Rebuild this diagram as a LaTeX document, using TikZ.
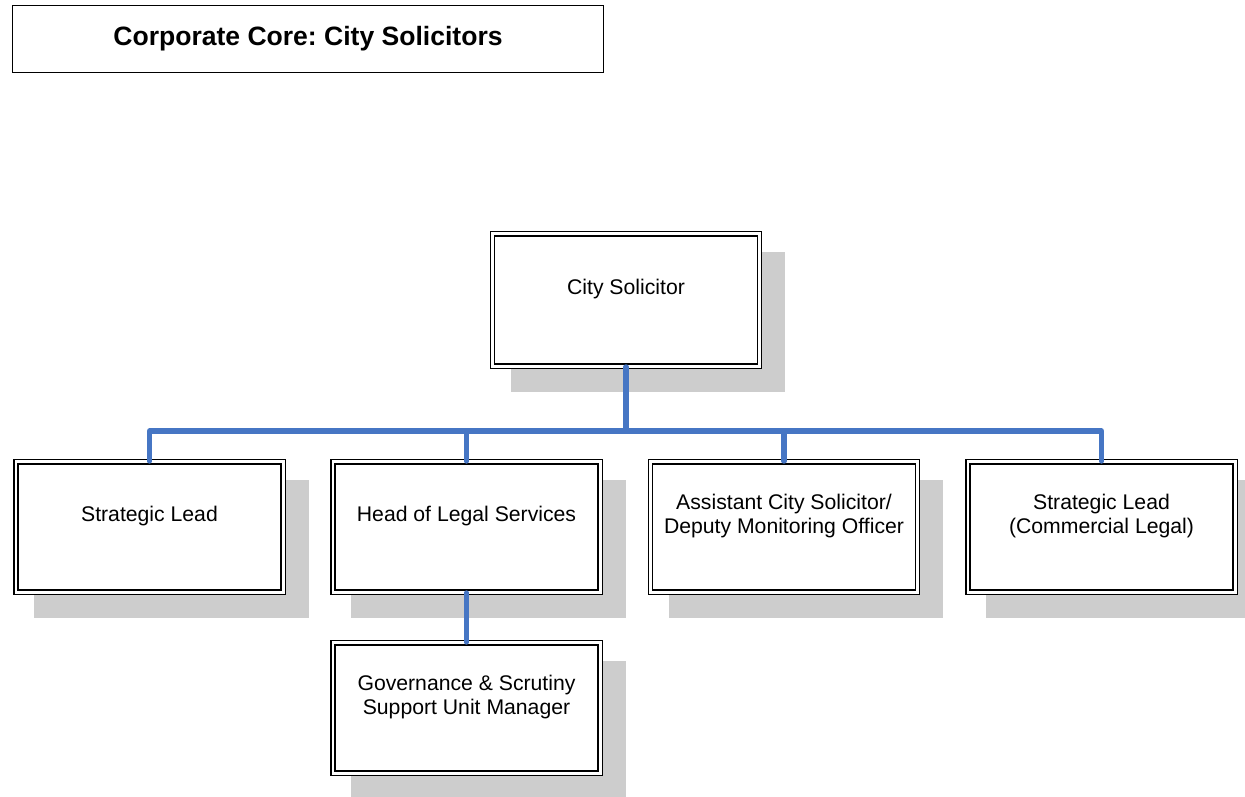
\documentclass[tikz,border=0pt]{standalone}
\usepackage{fontspec}
\setmainfont{Liberation Sans}
\frenchspacing
\usetikzlibrary{backgrounds}
\definecolor{connblue}{RGB}{70,118,196}
\definecolor{shadowgray}{RGB}{205,205,205}
\tikzset{
  orgbox/.style={draw=black, line width=1.05pt, double=white, double distance=2.2pt,
    fill=white, minimum width=200.3pt, minimum height=97.7pt, inner sep=0pt},
  boxtext/.style={font=\fontsize{15.9}{18}\selectfont, align=center, inner sep=0pt, yshift=8.3pt},
  conn/.style={draw=connblue, line width=3.8pt, line cap=round, line join=round},
  titlebox/.style={draw=black, line width=1.1pt, minimum width=443pt, minimum height=50.5pt,
    font=\fontsize{19.9}{24}\selectfont\bfseries},
  shadowfill/.style={fill=shadowgray}
}
\newcommand{\boxshadow}[1]{%
  \fill[shadowfill] ([xshift=14.3pt,yshift=-14.3pt]#1.north west) rectangle ([xshift=18.7pt,yshift=-18.7pt]#1.south east);}
\begin{document}
\begin{tikzpicture}[x=0.75pt,y=-0.75pt]
\useasboundingbox (0,0) rectangle (1245,796);

\node[titlebox] (title) at (308,39) {Corporate Core: City Solicitors};

\node[orgbox, minimum height=99.2pt, label={[boxtext]center:City Solicitor}] (cs) at (626,300) {};
\node[orgbox, label={[boxtext]center:Strategic Lead}] (s1) at (149.5,527) {};
\node[orgbox, label={[boxtext]center:Head of Legal Services}] (h2) at (466.5,527) {};
\node[orgbox, label={[boxtext]center:{Assistant City Solicitor/\\Deputy Monitoring Officer}}] (a3) at (784,527) {};
\node[orgbox, label={[boxtext]center:{Strategic Lead\\(Commercial Legal)}}] (s4) at (1101.5,527) {};
\node[orgbox, label={[boxtext]center:{Governance \& Scrutiny\\Support Unit Manager}}] (g) at (466.5,708) {};

\begin{scope}[on background layer]
  \boxshadow{cs}
  \boxshadow{s1}
  \boxshadow{h2}
  \boxshadow{a3}
  \boxshadow{s4}
  \boxshadow{g}
\end{scope}

\coordinate (bus) at (626,431);
\draw[conn] (cs.south) -- (bus);
\draw[conn] (bus) -| (s1.north);
\draw[conn] (bus) -| (h2.north);
\draw[conn] (bus) -| (a3.north);
\draw[conn] (bus) -| (s4.north);
\draw[conn] (h2.south) -- (g.north);
\end{tikzpicture}
\end{document}
